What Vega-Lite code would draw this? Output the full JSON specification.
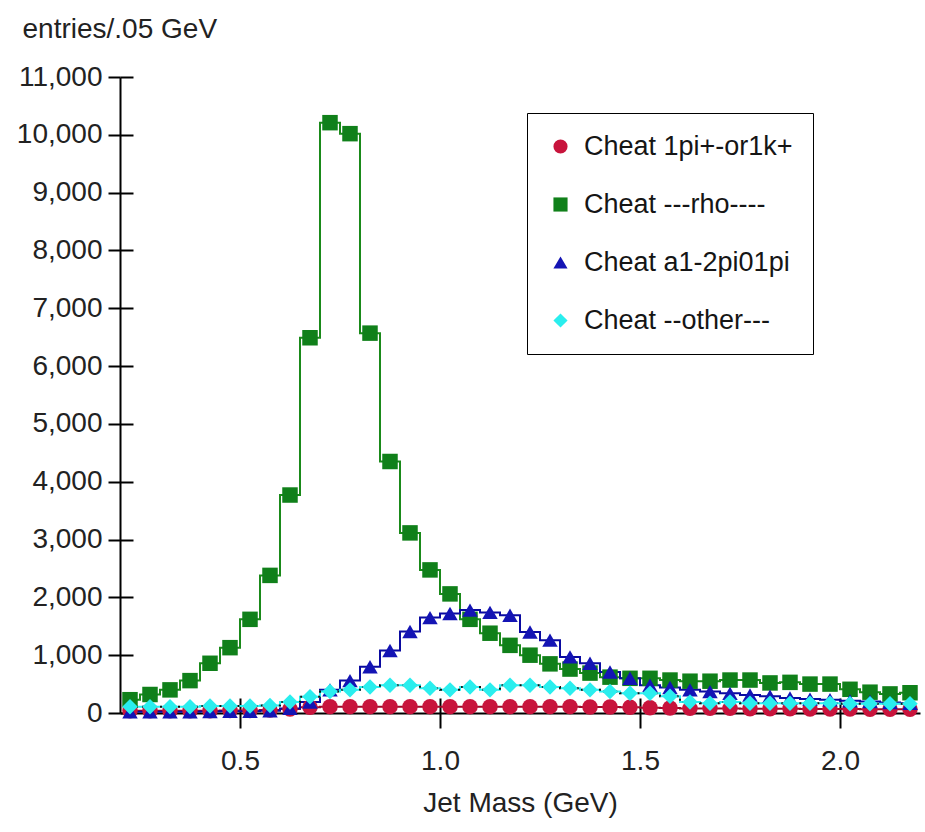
{
  "$schema": "https://vega.github.io/schema/vega-lite/v6.json",
  "width": 800,
  "height": 636,
  "autosize": {"type": "none"},
  "padding": {"left": 120, "top": 77, "right": 5, "bottom": 119},
  "background": "white",
  "config": {
    "view": {"stroke": null},
    "font": "Liberation Sans"
  },
  "resolve": {"axis": {"x": "independent", "y": "independent"}},
  "datasets": {
    "h": [
      {"m": 0.225, "s": "Cheat 1pi+-or1k+", "n": 40}, {"m": 0.275, "s": "Cheat 1pi+-or1k+", "n": 40}, {"m": 0.325, "s": "Cheat 1pi+-or1k+", "n": 40}, {"m": 0.375, "s": "Cheat 1pi+-or1k+", "n": 40}, {"m": 0.425, "s": "Cheat 1pi+-or1k+", "n": 40}, {"m": 0.475, "s": "Cheat 1pi+-or1k+", "n": 45}, {"m": 0.525, "s": "Cheat 1pi+-or1k+", "n": 45}, {"m": 0.575, "s": "Cheat 1pi+-or1k+", "n": 50}, {"m": 0.625, "s": "Cheat 1pi+-or1k+", "n": 70}, {"m": 0.675, "s": "Cheat 1pi+-or1k+", "n": 100},
      {"m": 0.725, "s": "Cheat 1pi+-or1k+", "n": 110}, {"m": 0.775, "s": "Cheat 1pi+-or1k+", "n": 110}, {"m": 0.825, "s": "Cheat 1pi+-or1k+", "n": 110}, {"m": 0.875, "s": "Cheat 1pi+-or1k+", "n": 110}, {"m": 0.925, "s": "Cheat 1pi+-or1k+", "n": 110}, {"m": 0.975, "s": "Cheat 1pi+-or1k+", "n": 110}, {"m": 1.025, "s": "Cheat 1pi+-or1k+", "n": 110}, {"m": 1.075, "s": "Cheat 1pi+-or1k+", "n": 110}, {"m": 1.125, "s": "Cheat 1pi+-or1k+", "n": 110}, {"m": 1.175, "s": "Cheat 1pi+-or1k+", "n": 110},
      {"m": 1.225, "s": "Cheat 1pi+-or1k+", "n": 110}, {"m": 1.275, "s": "Cheat 1pi+-or1k+", "n": 110}, {"m": 1.325, "s": "Cheat 1pi+-or1k+", "n": 110}, {"m": 1.375, "s": "Cheat 1pi+-or1k+", "n": 105}, {"m": 1.425, "s": "Cheat 1pi+-or1k+", "n": 105}, {"m": 1.475, "s": "Cheat 1pi+-or1k+", "n": 100}, {"m": 1.525, "s": "Cheat 1pi+-or1k+", "n": 90}, {"m": 1.575, "s": "Cheat 1pi+-or1k+", "n": 85}, {"m": 1.625, "s": "Cheat 1pi+-or1k+", "n": 80}, {"m": 1.675, "s": "Cheat 1pi+-or1k+", "n": 80},
      {"m": 1.725, "s": "Cheat 1pi+-or1k+", "n": 80}, {"m": 1.775, "s": "Cheat 1pi+-or1k+", "n": 75}, {"m": 1.825, "s": "Cheat 1pi+-or1k+", "n": 75}, {"m": 1.875, "s": "Cheat 1pi+-or1k+", "n": 75}, {"m": 1.925, "s": "Cheat 1pi+-or1k+", "n": 70}, {"m": 1.975, "s": "Cheat 1pi+-or1k+", "n": 70}, {"m": 2.025, "s": "Cheat 1pi+-or1k+", "n": 70}, {"m": 2.075, "s": "Cheat 1pi+-or1k+", "n": 65}, {"m": 2.125, "s": "Cheat 1pi+-or1k+", "n": 65}, {"m": 2.175, "s": "Cheat 1pi+-or1k+", "n": 65},

      {"m": 0.225, "s": "Cheat ---rho----", "n": 230}, {"m": 0.275, "s": "Cheat ---rho----", "n": 320}, {"m": 0.325, "s": "Cheat ---rho----", "n": 400}, {"m": 0.375, "s": "Cheat ---rho----", "n": 560}, {"m": 0.425, "s": "Cheat ---rho----", "n": 860}, {"m": 0.475, "s": "Cheat ---rho----", "n": 1130}, {"m": 0.525, "s": "Cheat ---rho----", "n": 1620}, {"m": 0.575, "s": "Cheat ---rho----", "n": 2380}, {"m": 0.625, "s": "Cheat ---rho----", "n": 3770}, {"m": 0.675, "s": "Cheat ---rho----", "n": 6490},
      {"m": 0.725, "s": "Cheat ---rho----", "n": 10210}, {"m": 0.775, "s": "Cheat ---rho----", "n": 10020}, {"m": 0.825, "s": "Cheat ---rho----", "n": 6570}, {"m": 0.875, "s": "Cheat ---rho----", "n": 4350}, {"m": 0.925, "s": "Cheat ---rho----", "n": 3115}, {"m": 0.975, "s": "Cheat ---rho----", "n": 2475}, {"m": 1.025, "s": "Cheat ---rho----", "n": 2060}, {"m": 1.075, "s": "Cheat ---rho----", "n": 1620}, {"m": 1.125, "s": "Cheat ---rho----", "n": 1380}, {"m": 1.175, "s": "Cheat ---rho----", "n": 1170},
      {"m": 1.225, "s": "Cheat ---rho----", "n": 1000}, {"m": 1.275, "s": "Cheat ---rho----", "n": 850}, {"m": 1.325, "s": "Cheat ---rho----", "n": 760}, {"m": 1.375, "s": "Cheat ---rho----", "n": 690}, {"m": 1.425, "s": "Cheat ---rho----", "n": 620}, {"m": 1.475, "s": "Cheat ---rho----", "n": 600}, {"m": 1.525, "s": "Cheat ---rho----", "n": 600}, {"m": 1.575, "s": "Cheat ---rho----", "n": 570}, {"m": 1.625, "s": "Cheat ---rho----", "n": 550}, {"m": 1.675, "s": "Cheat ---rho----", "n": 550},
      {"m": 1.725, "s": "Cheat ---rho----", "n": 570}, {"m": 1.775, "s": "Cheat ---rho----", "n": 570}, {"m": 1.825, "s": "Cheat ---rho----", "n": 520}, {"m": 1.875, "s": "Cheat ---rho----", "n": 530}, {"m": 1.925, "s": "Cheat ---rho----", "n": 500}, {"m": 1.975, "s": "Cheat ---rho----", "n": 500}, {"m": 2.025, "s": "Cheat ---rho----", "n": 410}, {"m": 2.075, "s": "Cheat ---rho----", "n": 360}, {"m": 2.125, "s": "Cheat ---rho----", "n": 330}, {"m": 2.175, "s": "Cheat ---rho----", "n": 350},

      {"m": 0.225, "s": "Cheat a1-2pi01pi", "n": 20}, {"m": 0.275, "s": "Cheat a1-2pi01pi", "n": 20}, {"m": 0.325, "s": "Cheat a1-2pi01pi", "n": 20}, {"m": 0.375, "s": "Cheat a1-2pi01pi", "n": 20}, {"m": 0.425, "s": "Cheat a1-2pi01pi", "n": 25}, {"m": 0.475, "s": "Cheat a1-2pi01pi", "n": 30}, {"m": 0.525, "s": "Cheat a1-2pi01pi", "n": 30}, {"m": 0.575, "s": "Cheat a1-2pi01pi", "n": 40}, {"m": 0.625, "s": "Cheat a1-2pi01pi", "n": 80}, {"m": 0.675, "s": "Cheat a1-2pi01pi", "n": 190},
      {"m": 0.725, "s": "Cheat a1-2pi01pi", "n": 400}, {"m": 0.775, "s": "Cheat a1-2pi01pi", "n": 560}, {"m": 0.825, "s": "Cheat a1-2pi01pi", "n": 800}, {"m": 0.875, "s": "Cheat a1-2pi01pi", "n": 1080}, {"m": 0.925, "s": "Cheat a1-2pi01pi", "n": 1410}, {"m": 0.975, "s": "Cheat a1-2pi01pi", "n": 1650}, {"m": 1.025, "s": "Cheat a1-2pi01pi", "n": 1720}, {"m": 1.075, "s": "Cheat a1-2pi01pi", "n": 1780}, {"m": 1.125, "s": "Cheat a1-2pi01pi", "n": 1740}, {"m": 1.175, "s": "Cheat a1-2pi01pi", "n": 1690},
      {"m": 1.225, "s": "Cheat a1-2pi01pi", "n": 1400}, {"m": 1.275, "s": "Cheat a1-2pi01pi", "n": 1260}, {"m": 1.325, "s": "Cheat a1-2pi01pi", "n": 970}, {"m": 1.375, "s": "Cheat a1-2pi01pi", "n": 860}, {"m": 1.425, "s": "Cheat a1-2pi01pi", "n": 710}, {"m": 1.475, "s": "Cheat a1-2pi01pi", "n": 600}, {"m": 1.525, "s": "Cheat a1-2pi01pi", "n": 480}, {"m": 1.575, "s": "Cheat a1-2pi01pi", "n": 440}, {"m": 1.625, "s": "Cheat a1-2pi01pi", "n": 400}, {"m": 1.675, "s": "Cheat a1-2pi01pi", "n": 370},
      {"m": 1.725, "s": "Cheat a1-2pi01pi", "n": 340}, {"m": 1.775, "s": "Cheat a1-2pi01pi", "n": 310}, {"m": 1.825, "s": "Cheat a1-2pi01pi", "n": 290}, {"m": 1.875, "s": "Cheat a1-2pi01pi", "n": 260}, {"m": 1.925, "s": "Cheat a1-2pi01pi", "n": 240}, {"m": 1.975, "s": "Cheat a1-2pi01pi", "n": 230}, {"m": 2.025, "s": "Cheat a1-2pi01pi", "n": 210}, {"m": 2.075, "s": "Cheat a1-2pi01pi", "n": 200}, {"m": 2.125, "s": "Cheat a1-2pi01pi", "n": 180}, {"m": 2.175, "s": "Cheat a1-2pi01pi", "n": 170},

      {"m": 0.225, "s": "Cheat --other---", "n": 110}, {"m": 0.275, "s": "Cheat --other---", "n": 110}, {"m": 0.325, "s": "Cheat --other---", "n": 110}, {"m": 0.375, "s": "Cheat --other---", "n": 110}, {"m": 0.425, "s": "Cheat --other---", "n": 120}, {"m": 0.475, "s": "Cheat --other---", "n": 120}, {"m": 0.525, "s": "Cheat --other---", "n": 120}, {"m": 0.575, "s": "Cheat --other---", "n": 130}, {"m": 0.625, "s": "Cheat --other---", "n": 190}, {"m": 0.675, "s": "Cheat --other---", "n": 280},
      {"m": 0.725, "s": "Cheat --other---", "n": 370}, {"m": 0.775, "s": "Cheat --other---", "n": 400}, {"m": 0.825, "s": "Cheat --other---", "n": 450}, {"m": 0.875, "s": "Cheat --other---", "n": 480}, {"m": 0.925, "s": "Cheat --other---", "n": 480}, {"m": 0.975, "s": "Cheat --other---", "n": 430}, {"m": 1.025, "s": "Cheat --other---", "n": 400}, {"m": 1.075, "s": "Cheat --other---", "n": 450}, {"m": 1.125, "s": "Cheat --other---", "n": 400}, {"m": 1.175, "s": "Cheat --other---", "n": 480},
      {"m": 1.225, "s": "Cheat --other---", "n": 480}, {"m": 1.275, "s": "Cheat --other---", "n": 450}, {"m": 1.325, "s": "Cheat --other---", "n": 430}, {"m": 1.375, "s": "Cheat --other---", "n": 400}, {"m": 1.425, "s": "Cheat --other---", "n": 370}, {"m": 1.475, "s": "Cheat --other---", "n": 340}, {"m": 1.525, "s": "Cheat --other---", "n": 340}, {"m": 1.575, "s": "Cheat --other---", "n": 290}, {"m": 1.625, "s": "Cheat --other---", "n": 190}, {"m": 1.675, "s": "Cheat --other---", "n": 170},
      {"m": 1.725, "s": "Cheat --other---", "n": 190}, {"m": 1.775, "s": "Cheat --other---", "n": 170}, {"m": 1.825, "s": "Cheat --other---", "n": 170}, {"m": 1.875, "s": "Cheat --other---", "n": 170}, {"m": 1.925, "s": "Cheat --other---", "n": 170}, {"m": 1.975, "s": "Cheat --other---", "n": 170}, {"m": 2.025, "s": "Cheat --other---", "n": 160}, {"m": 2.075, "s": "Cheat --other---", "n": 160}, {"m": 2.125, "s": "Cheat --other---", "n": 160}, {"m": 2.175, "s": "Cheat --other---", "n": 160}
    ]
  },
  "data": {"name": "h"},
  "layer": [
    {
      "mark": {"type": "line", "interpolate": "step", "strokeWidth": 2},
      "encoding": {
        "x": {
          "field": "m", "type": "quantitative",
          "scale": {"domain": [0.2, 2.2], "nice": false, "zero": false},
          "axis": {
            "orient": "bottom", "values": [0.5, 1.0, 1.5, 2.0],
            "labels": false, "domain": false, "grid": false, "title": null,
            "tickColor": "black", "tickWidth": 2, "tickSize": -15
          }
        },
        "y": {
          "field": "n", "type": "quantitative",
          "scale": {"domain": [0, 11000], "nice": false},
          "axis": {
            "orient": "left",
            "values": [0, 1000, 2000, 3000, 4000, 5000, 6000, 7000, 8000, 9000, 10000, 11000],
            "labels": false, "domain": false, "grid": false, "title": null,
            "tickColor": "black", "tickWidth": 2, "tickSize": -13
          }
        },
        "stroke": {
          "field": "s", "type": "nominal",
          "scale": {
            "domain": ["Cheat --other---", "Cheat a1-2pi01pi", "Cheat ---rho----", "Cheat 1pi+-or1k+"],
            "range": ["#2aeeee", "#0a0aa0", "#1a8a1a", "#a00a28"]
          },
          "legend": null
        }
      }
    },
    {
      "transform": [{"filter": "datum.s === 'Cheat --other---'"}],
      "mark": {"type": "line", "interpolate": "step", "strokeWidth": 2, "color": "#111111", "strokeDash": [2, 4]},
      "encoding": {
        "x": {"field": "m", "type": "quantitative", "axis": null},
        "y": {"field": "n", "type": "quantitative", "axis": null}
      }
    },
    {
      "mark": {"type": "point", "filled": true, "size": 240, "opacity": 1},
      "encoding": {
        "x": {
          "field": "m", "type": "quantitative",
          "axis": {
            "orient": "bottom",
            "values": [0.5, 1.0, 1.5, 2.0],
            "format": ".1f",
            "domainColor": "black", "domainWidth": 2,
            "tickColor": "black", "tickWidth": 2, "tickSize": 15,
            "grid": false,
            "labelFontSize": 28, "labelColor": "#222222", "labelPadding": 19, "labelFont": "Liberation Sans",
            "title": "Jet Mass (GeV)", "titleFontSize": 28, "titleFontWeight": "normal", "titleColor": "#222222", "titlePadding": 14, "titleFont": "Liberation Sans"
          }
        },
        "y": {
          "field": "n", "type": "quantitative",
          "axis": {
            "orient": "left",
            "values": [0, 1000, 2000, 3000, 4000, 5000, 6000, 7000, 8000, 9000, 10000, 11000],
            "format": ",d",
            "domainColor": "black", "domainWidth": 2,
            "tickColor": "black", "tickWidth": 2, "tickSize": 12,
            "grid": false,
            "labelFontSize": 28, "labelColor": "#222222", "labelPadding": 6, "labelFont": "Liberation Sans",
            "title": "entries/.05 GeV", "titleAngle": 0, "titleAlign": "left", "titleBaseline": "alphabetic",
            "titleX": -98, "titleY": -40,
            "titleFontSize": 28, "titleFontWeight": "normal", "titleColor": "#222222", "titleFont": "Liberation Sans"
          }
        },
        "color": {
          "field": "s", "type": "nominal",
          "scale": {
            "domain": ["Cheat 1pi+-or1k+", "Cheat ---rho----", "Cheat a1-2pi01pi", "Cheat --other---"],
            "range": ["#c8143c", "#10801a", "#1414b4", "#2aeeee"]
          },
          "legend": {
            "title": null,
            "orient": "none",
            "legendX": 407,
            "legendY": 36,
            "strokeColor": "black",
            "fillColor": "white",
            "padding": 20,
            "labelFontSize": 27,
            "labelColor": "#151515",
            "labelFont": "Liberation Sans",
            "symbolSize": 200,
            "rowPadding": 30,
            "labelOffset": 10,
            "labelLimit": 400
          }
        },
        "shape": {
          "field": "s", "type": "nominal",
          "scale": {
            "domain": ["Cheat 1pi+-or1k+", "Cheat ---rho----", "Cheat a1-2pi01pi", "Cheat --other---"],
            "range": ["circle", "square", "triangle-up", "diamond"]
          },
          "legend": {
            "title": null,
            "orient": "none",
            "legendX": 407,
            "legendY": 36,
            "strokeColor": "black",
            "fillColor": "white",
            "padding": 20,
            "labelFontSize": 27,
            "labelColor": "#151515",
            "labelFont": "Liberation Sans",
            "symbolSize": 200,
            "rowPadding": 30,
            "labelOffset": 10,
            "labelLimit": 400
          }
        }
      }
    }
  ]
}
